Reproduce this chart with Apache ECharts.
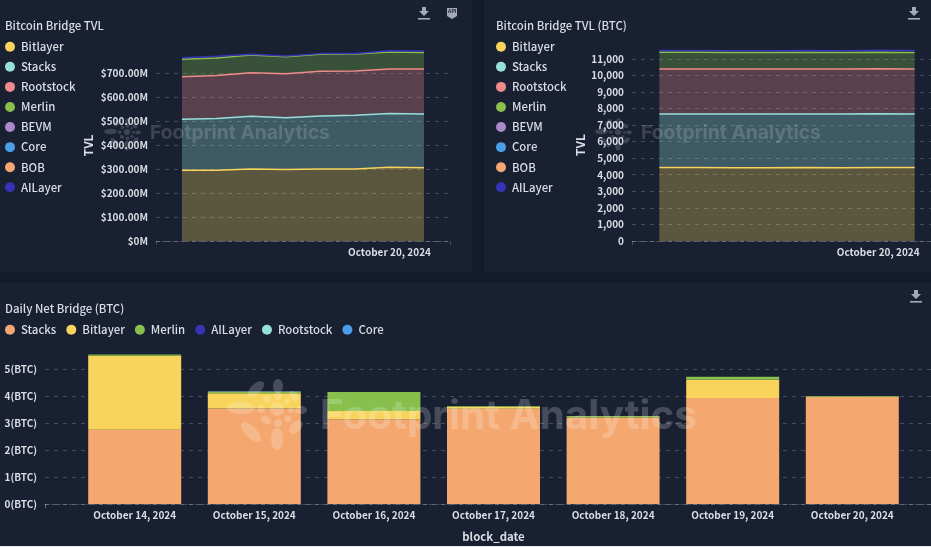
<!DOCTYPE html>
<html>
<head>
<meta charset="utf-8">
<title>Bitcoin Bridge</title>
<script src="https://cdn.jsdelivr.net/npm/echarts@6/dist/echarts.min.js"></script>
<style>
html, body { margin: 0; padding: 0; width: 931px; height: 547px; overflow: hidden; background: #131a29; }
.panel { position: absolute; background: #182032; overflow: hidden; }
#tvl { left: 0; top: 0; width: 472px; height: 272px; }
#btc { left: 484px; top: 0; width: 447px; height: 272px; }
#net { left: 0; top: 283px; width: 931px; height: 263px; }
#edge { position: absolute; left: 0; top: 546px; width: 931px; height: 1px; background: #e6e8ec; }
</style>
</head>
<body>
<div id="tvl" class="panel"></div>
<div id="btc" class="panel"></div>
<div id="net" class="panel"></div>
<div id="edge"></div>
<script>
/* 基础数据 */
var days = ['2024-10-14', '2024-10-15', '2024-10-16', '2024-10-17', '2024-10-18', '2024-10-19', '2024-10-20', '2024-10-21'];
var barDays = ['2024-10-14', '2024-10-15', '2024-10-16', '2024-10-17', '2024-10-18', '2024-10-19', '2024-10-20'];

// TVL, $M
var usdBitlayer = [296, 296, 301, 299, 301, 301, 309, 307];
var usdStacks = [213, 217, 221, 217, 222, 225, 224, 224];
var usdRootstock = [178, 179, 182, 184, 187, 185, 187, 189];
var usdMerlin = [73, 74, 74, 71, 71, 71, 71, 69];
var usdBEVM = [1, 1, 0.5, 0.5, 0.5, 0.5, 1, 1];
var usdCore = [1, 1, 0.5, 0.5, 0.5, 0.5, 1, 1];
var usdBOB = [1, 1, 0.5, 0.5, 0.5, 0.5, 1, 1];
var usdAILayer = [4, 4, 1.5, 1.5, 1.5, 1.5, 2, 3];

// TVL, BTC
var btcBitlayer = [4430, 4430, 4420, 4420, 4430, 4420, 4440, 4430];
var btcStacks = [3240, 3240, 3250, 3240, 3240, 3250, 3240, 3240];
var btcRootstock = [2710, 2710, 2710, 2720, 2710, 2710, 2710, 2710];
var btcMerlin = [1010, 1010, 1000, 1000, 1010, 1000, 1000, 1000];
var btcBEVM = [10, 10, 10, 10, 10, 10, 10, 10];
var btcCore = [20, 20, 20, 20, 20, 20, 20, 20];
var btcBOB = [10, 10, 10, 10, 10, 10, 10, 10];
var btcAILayer = [70, 70, 70, 70, 70, 70, 80, 80];

// daily net bridge, BTC
var netStacks = [2.75, 3.54, 3.14, 3.53, 3.2, 3.93, 3.96];
var netBitlayer = [2.74, 0.56, 0.3, 0.07, 0.01, 0.67, 0.01];
var netMerlin = [0.05, 0.05, 0.71, 0.03, 0.05, 0.11, 0.03];
var netAILayer = [0, 0, 0, 0, 0, 0, 0];
var netRootstock = [0, 0.02, 0, 0, 0, 0, 0];
var netCore = [0, 0, 0, 0, 0, 0, 0];

var yellow = '#f8d45c', teal = '#97e0da', pink = '#f08b8b', green = '#88bf4d',
    purple = '#ad88cc', blue = '#4a9fe8', orange = '#f4a870', indigo = '#3733b5';
var fontName = '"Noto Sans CJK SC", "Noto Sans", sans-serif';
var labelColor = '#d9dde4';
var gridColor = 'rgba(255,255,255,0.2)';
var iconColor = '#a3a9b6';

function stamp(d, hours) {
    var t = new Date(d + 'T00:00:00').getTime();
    return t + (hours || 0) * 3600000;
}

function pairs(dates, values) {
    return values.map(function (v, i) { return [stamp(dates[i]), v]; });
}

function dateLabel(v) {
    var d = new Date(v);
    var months = ['January', 'February', 'March', 'April', 'May', 'June', 'July', 'August', 'September', 'October', 'November', 'December'];
    return months[d.getMonth()] + ' ' + d.getDate() + ', ' + d.getFullYear();
}

/* 下载图标 */
function downloadIcon(cx) {
    return [
        { type: 'polygon', z: 20, shape: { points: [[cx - 2, 7], [cx + 2, 7], [cx + 2, 11], [cx + 5, 11], [cx, 16], [cx - 5, 11], [cx - 2, 11]] }, style: { fill: iconColor } },
        { type: 'rect', z: 20, shape: { x: cx - 6, y: 18, width: 12, height: 1.6 }, style: { fill: iconColor } }
    ];
}

/* 水印 logo + 文字 */
var petals = [
    [1, -23, 5, 7, 0], [-21, -20, 10, 5, -0.75], [-36, -1, 14, 6, 0], [-26, 23, 13, 5.5, 0.8],
    [0, 30, 6, 11, 0], [19, 18, 8, 5, -0.8], [24, 1, 6, 4, 0], [17, -13, 6, 4, 0.7],
    [0, 0, 7, 7, 0], [-16, 0, 4, 4, 0], [-10, -10, 4, 4, 0], [1, -13, 4, 4, 0], [10, -8, 3, 3, 0],
    [14, 1, 3, 3, 0], [11, 10, 3.5, 3.5, 0], [1, 14, 4, 4, 0], [-11, 11, 5, 4, 0.6]
];

function watermark(cx, cy, scale, textX, textY, fontSize, fill) {
    var items = petals.map(function (p) {
        return {
            type: 'ellipse', silent: true, z: 30,
            x: p[0], y: p[1], rotation: -p[4],
            shape: { cx: 0, cy: 0, rx: p[2], ry: p[3] },
            style: { fill: fill }
        };
    });
    return [
        { type: 'group', x: cx, y: cy, scaleX: scale, scaleY: scale, children: items },
        {
            type: 'text', x: textX, y: textY, z: 30, silent: true,
            style: { text: 'Footprint Analytics', fill: fill, font: 'bold ' + fontSize + 'px Inter, sans-serif', textVerticalAlign: 'middle' }
        }
    ];
}

// pad: hours passed to min/max (bars make echarts widen the extent again)
function timeAxis(first, last, showDays, pad) {
    var shown = showDays.map(function (d) { return stamp(d); });
    return {
        type: 'time',
        min: stamp(first, -pad),
        max: stamp(last, pad),
        splitNumber: 12,
        axisLine: { show: true, lineStyle: { color: gridColor, type: 'dashed' } },
        axisTick: { show: true, length: 4, customValues: [stamp(first, -18), stamp(last, 18)], lineStyle: { color: gridColor } },
        splitLine: { show: false },
        axisLabel: {
            formatter: function (v) { return shown.indexOf(v) >= 0 ? dateLabel(v) : ''; },
            color: labelColor, fontFamily: fontName, fontSize: 10, fontWeight: 700,
            margin: 6, hideOverlap: false, showMinLabel: false, showMaxLabel: false
        }
    };
}

function valueAxis(maxValue, step, fmt, name, gap, namePad) {
    return {
        type: 'value',
        min: 0,
        max: maxValue,
        interval: step,
        name: name,
        nameLocation: 'middle',
        nameGap: gap,
        nameMoveOverlap: false,
        nameTextStyle: { color: labelColor, fontFamily: fontName, fontSize: 12, fontWeight: 700, padding: namePad || 0 },
        axisLine: { show: false },
        axisTick: { show: false },
        splitLine: { show: true, showMaxLine: false, lineStyle: { color: gridColor, type: [4, 5] } },
        axisLabel: {
            formatter: fmt, showMaxLabel: false, margin: 8,
            color: labelColor, fontFamily: fontName, fontSize: 10, fontWeight: 700
        }
    };
}

function areaSeries(name, color, values, lineWidth) {
    return {
        name: name,
        type: 'line',
        stack: 'tvl',
        symbol: 'none',
        color: color,
        data: pairs(days, values),
        lineStyle: { width: lineWidth, color: color },
        areaStyle: { color: color, opacity: 0.3 },
        emphasis: { disabled: true }
    };
}

function barSeries(name, color, values) {
    return {
        name: name,
        type: 'bar',
        stack: 'net',
        barWidth: 93,
        color: color,
        data: pairs(barDays, values),
        itemStyle: { color: color }
    };
}

function sideLegend(left) {
    return {
        orient: 'vertical', left: left, top: 41, padding: 0,
        icon: 'circle', itemWidth: 10, itemHeight: 10, itemGap: 8.7,
        textStyle: { color: labelColor, fontFamily: fontName, fontSize: 11.4, fontWeight: 500, padding: [0, 0, 0, 1] }
    };
}

function titleOf(text, left) {
    return {
        text: text, left: left, top: 20, padding: 0,
        textStyle: { color: labelColor, fontFamily: fontName, fontSize: 11.4, fontWeight: 500 }
    };
}

/* Bitcoin Bridge TVL */
var tvlChart = echarts.init(document.getElementById('tvl'));
tvlChart.setOption({
    animation: false,
    title: titleOf('Bitcoin Bridge TVL', 5),
    legend: sideLegend(5),
    grid: { left: 156, top: 49.8, width: 294, height: 191.2, outerBoundsMode: 'none' },
    xAxis: timeAxis(days[0], days[7], ['2024-10-20'], 18),
    yAxis: valueAxis(800, 100, function (v) { return v === 0 ? '$0M' : '$' + v + '.00M'; }, 'TVL', 62),
    series: [
        areaSeries('Bitlayer', yellow, usdBitlayer, 1.5),
        areaSeries('Stacks', teal, usdStacks, 1.5),
        areaSeries('Rootstock', pink, usdRootstock, 1.5),
        areaSeries('Merlin', green, usdMerlin, 1.5),
        areaSeries('BEVM', purple, usdBEVM, 0),
        areaSeries('Core', blue, usdCore, 0),
        areaSeries('BOB', orange, usdBOB, 0),
        areaSeries('AILayer', indigo, usdAILayer, 1.5)
    ],
    graphic: downloadIcon(424).concat([
        { type: 'polygon', z: 20, shape: { points: [[447, 8], [457, 8], [457, 16], [452, 19], [447, 16]] }, style: { fill: iconColor } },
        { type: 'text', z: 21, x: 452, y: 12, style: { text: 'API', fill: '#182032', font: 'bold 5px sans-serif', textAlign: 'center', textVerticalAlign: 'middle' } }
    ]).concat(watermark(127, 132, 0.46, 150, 133, 19.3, 'rgba(255,255,255,0.16)'))
});

/* Bitcoin Bridge TVL (BTC) */
var btcChart = echarts.init(document.getElementById('btc'));
btcChart.setOption({
    animation: false,
    title: titleOf('Bitcoin Bridge TVL (BTC)', 12),
    legend: sideLegend(12),
    grid: { left: 148, top: 42.2, width: 310, height: 198.8, outerBoundsMode: 'none' },
    xAxis: timeAxis(days[0], days[7], ['2024-10-20'], 18),
    yAxis: valueAxis(12000, 1000, function (v) { return v.toLocaleString('en-US'); }, 'TVL', 46, [0, 7, 0, 0]),
    series: [
        areaSeries('Bitlayer', yellow, btcBitlayer, 1.5),
        areaSeries('Stacks', teal, btcStacks, 1.5),
        areaSeries('Rootstock', pink, btcRootstock, 1.5),
        areaSeries('Merlin', green, btcMerlin, 1.5),
        areaSeries('BEVM', purple, btcBEVM, 0),
        areaSeries('Core', blue, btcCore, 0),
        areaSeries('BOB', orange, btcBOB, 0),
        areaSeries('AILayer', indigo, btcAILayer, 1.5)
    ],
    graphic: downloadIcon(430).concat(watermark(134, 132, 0.46, 157, 133, 19.3, 'rgba(255,255,255,0.16)'))
});

/* Daily Net Bridge (BTC) */
var netChart = echarts.init(document.getElementById('net'));
netChart.setOption({
    animation: false,
    title: titleOf('Daily Net Bridge (BTC)', 5),
    legend: {
        orient: 'horizontal', left: 5, top: 41, padding: 0,
        icon: 'circle', itemWidth: 10, itemHeight: 10, itemGap: 10,
        textStyle: { color: labelColor, fontFamily: fontName, fontSize: 11.4, fontWeight: 500, padding: [0, 0, 0, 1] }
    },
    grid: { left: 45, top: 59, width: 897, height: 162, outerBoundsMode: 'none' },
    xAxis: Object.assign(timeAxis(barDays[0], barDays[6], barDays, 8.67), {
        name: 'block_date', nameLocation: 'middle', nameGap: 27, nameMoveOverlap: false,
        nameTextStyle: { color: labelColor, fontFamily: fontName, fontSize: 11.4, fontWeight: 700 }
    }),
    yAxis: valueAxis(6, 1, function (v) { return v + '(BTC)'; }, '', 0),
    series: [
        barSeries('Stacks', orange, netStacks),
        barSeries('Bitlayer', yellow, netBitlayer),
        barSeries('Merlin', green, netMerlin),
        barSeries('AILayer', indigo, netAILayer),
        barSeries('Rootstock', teal, netRootstock),
        barSeries('Core', blue, netCore)
    ],
    graphic: downloadIcon(916).concat(watermark(277, 126, 1, 320, 134, 40.4, 'rgba(255,255,255,0.2)'))
});
</script>
</body>
</html>
